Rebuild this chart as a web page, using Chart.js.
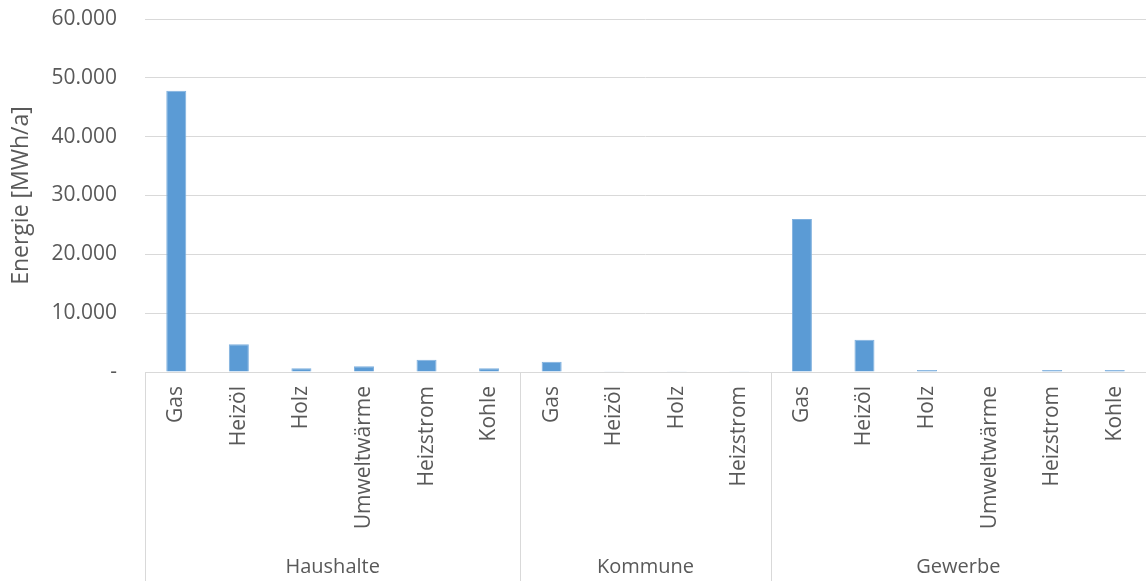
<!DOCTYPE html>
<html lang="de">
<head>
    <meta charset="UTF-8">
    <title>Energie nach Sektor</title>
    <script src="https://cdn.jsdelivr.net/npm/chart.js"></script>
    <style>
        body { margin: 0; background: #fff; }
        #wrap { width: 1146px; height: 581px; position: relative; }
    </style>
</head>
<body>
    <div id="wrap"><canvas id="myChart"></canvas></div>
    <script>
        // Data (MWh/a)
        const groups = ['Haushalte', 'Kommune', 'Gewerbe'];
        const haushalteCats = ['Gas', 'Heizöl', 'Holz', 'Umweltwärme', 'Heizstrom', 'Kohle'];
        const haushalteVals = [47800, 4700, 630, 970, 2100, 630];
        const kommuneCats = ['Gas', 'Heizöl', 'Holz', 'Heizstrom'];
        const kommuneVals = [1750, 60, 60, 60];
        const gewerbeCats = ['Gas', 'Heizöl', 'Holz', 'Umweltwärme', 'Heizstrom', 'Kohle'];
        const gewerbeVals = [26000, 5500, 340, 80, 340, 340];
        const yTicks = [0, 10000, 20000, 30000, 40000, 50000, 60000];

        const groupCats = [haushalteCats, kommuneCats, gewerbeCats];
        const labels = [].concat(haushalteCats, kommuneCats, gewerbeCats);
        const values = [].concat(haushalteVals, kommuneVals, gewerbeVals);

        const textColor = '#595959';
        const lineColor = '#d9d9d9';
        const fontFamily = '"Open Sans", sans-serif';

        function fmt(v) {
            if (v === 0) return '-';
            return String(v).replace(/\B(?=(\d{3})+(?!\d))/g, '.');
        }

        // draws the second axis row (group names) and the separators
        const groupAxis = {
            id: 'groupAxis',
            afterDraw(chart) {
                const ctx = chart.ctx;
                const x = chart.scales.x;
                const top = chart.chartArea.bottom;
                const bottom = chart.height;
                const step = x.getPixelForValue(1) - x.getPixelForValue(0);
                ctx.save();
                ctx.strokeStyle = lineColor;
                ctx.lineWidth = 1;
                ctx.fillStyle = textColor;
                ctx.font = '20px ' + fontFamily;
                ctx.textAlign = 'center';
                ctx.textBaseline = 'middle';
                let start = 0;
                groupCats.forEach((cats, i) => {
                    const end = start + cats.length - 1;
                    const left = x.getPixelForValue(start) - step / 2;
                    const right = x.getPixelForValue(end) + step / 2;
                    ctx.beginPath();
                    const lx = Math.round(left) + 0.5;
                    ctx.moveTo(lx, top);
                    ctx.lineTo(lx, bottom);
                    ctx.stroke();
                    ctx.fillText(groups[i], (left + right) / 2, bottom - 14);
                    start = end + 1;
                });
                ctx.restore();
            }
        };

        new Chart(document.getElementById('myChart'), {
            type: 'bar',
            data: {
                labels: labels,
                datasets: [{
                    label: 'Energie',
                    data: values,
                    backgroundColor: '#5b9bd5',
                    borderColor: '#7fb0de',
                    borderWidth: 1,
                    barPercentage: 0.32,
                    categoryPercentage: 1
                }]
            },
            options: {
                responsive: true,
                maintainAspectRatio: false,
                animation: false,
                layout: { padding: { top: 19, right: 0, left: 0, bottom: 0 } },
                plugins: {
                    legend: { display: false },
                    tooltip: { enabled: false }
                },
                scales: {
                    x: {
                        grid: { display: false, drawTicks: false },
                        border: { display: true, color: lineColor },
                        ticks: {
                            color: textColor,
                            font: { family: fontFamily, size: 21 },
                            minRotation: 90,
                            maxRotation: 90,
                            autoSkip: false,
                            padding: 14
                        },
                        afterFit(scale) {
                            scale.height = 209;
                            scale.paddingLeft = 0;
                            scale.paddingRight = 0;
                        }
                    },
                    y: {
                        min: 0,
                        max: 60000,
                        afterBuildTicks(scale) { scale.ticks = yTicks.map(v => ({ value: v })); },
                        grid: { color: lineColor, drawTicks: false },
                        border: { display: false },
                        ticks: {
                            color: textColor,
                            font: { family: fontFamily, size: 21 },
                            padding: 28,
                            callback: v => fmt(v)
                        },
                        title: {
                            display: true,
                            text: 'Energie [MWh/a]',
                            color: textColor,
                            font: { family: fontFamily, size: 23 },
                            padding: { top: 8, bottom: 0 }
                        },
                        afterFit(scale) {
                            scale.width = 145;
                            scale.paddingTop = 0;
                            scale.paddingBottom = 0;
                        }
                    }
                }
            },
            plugins: [groupAxis]
        });
    </script>
</body>
</html>
